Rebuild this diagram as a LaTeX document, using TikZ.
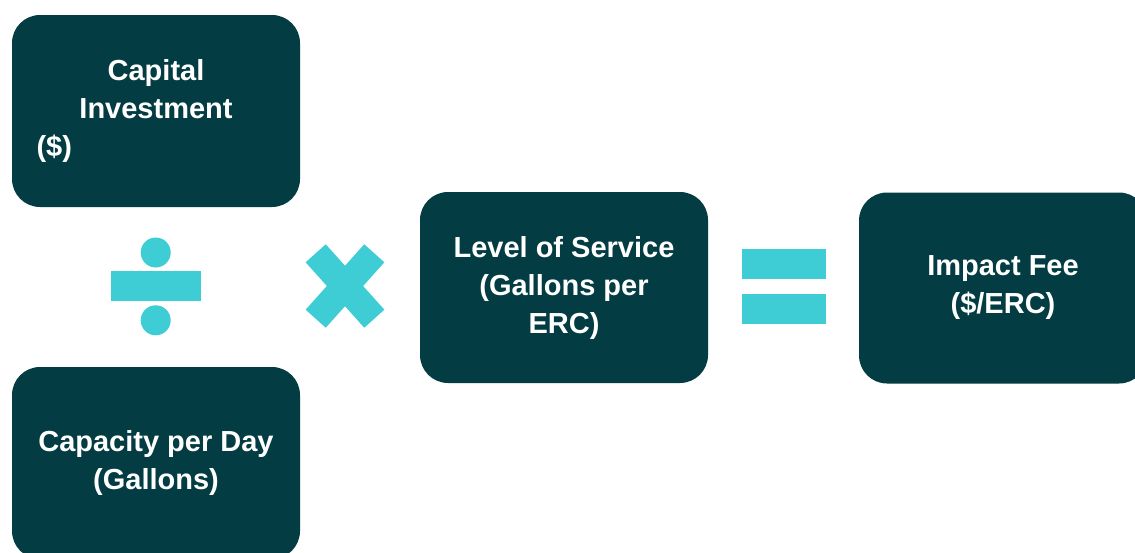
\documentclass[tikz,border=0pt]{standalone}
\usepackage{fontspec}
\setmainfont{Liberation Sans}
\definecolor{boxteal}{HTML}{033C42}
\definecolor{opcyan}{HTML}{3ECCD5}
\begin{document}
\begin{tikzpicture}[x=1pt,y=-1pt,
  termbox/.style={fill=boxteal, rounded corners=28pt, minimum width=288pt,
    minimum height=192pt, inner sep=0pt, text=white, align=center,
    font=\bfseries\fontsize{29}{38}\selectfont},
  opsign/.style={fill=opcyan, draw=none}]
  \useasboundingbox (0,0) rectangle (1135,552);

  % operand and result boxes
  \node[termbox, text width=239pt] (capinv) at (156,111)
    {Capital\\Investment\\\makebox[\linewidth][l]{(\$)}};
  \node[termbox] (capday) at (156,463) {Capacity per Day\\(Gallons)};
  \node[termbox, minimum height=191pt] (los) at (564,287.5)
    {Level of Service\\(Gallons per\\ERC)};
  \node[termbox, minimum height=191pt] (fee) at (1003,288)
    {Impact Fee\\(\$/ERC)};

  % division sign
  \fill[opsign] (110.5,271) rectangle (201,301);
  \fill[opsign] (155.7,252.5) circle (15);
  \fill[opsign] (155.7,320.3) circle (15);

  % multiplication sign
  \draw[opcyan, line width=27pt, line cap=butt]
    (315.7,253.3) -- (374.3,318.7)
    (374.3,253.3) -- (315.7,318.7);

  % equals sign
  \fill[opsign] (742,249) rectangle (825.7,279);
  \fill[opsign] (742,294) rectangle (825.7,324);
\end{tikzpicture}
\end{document}
